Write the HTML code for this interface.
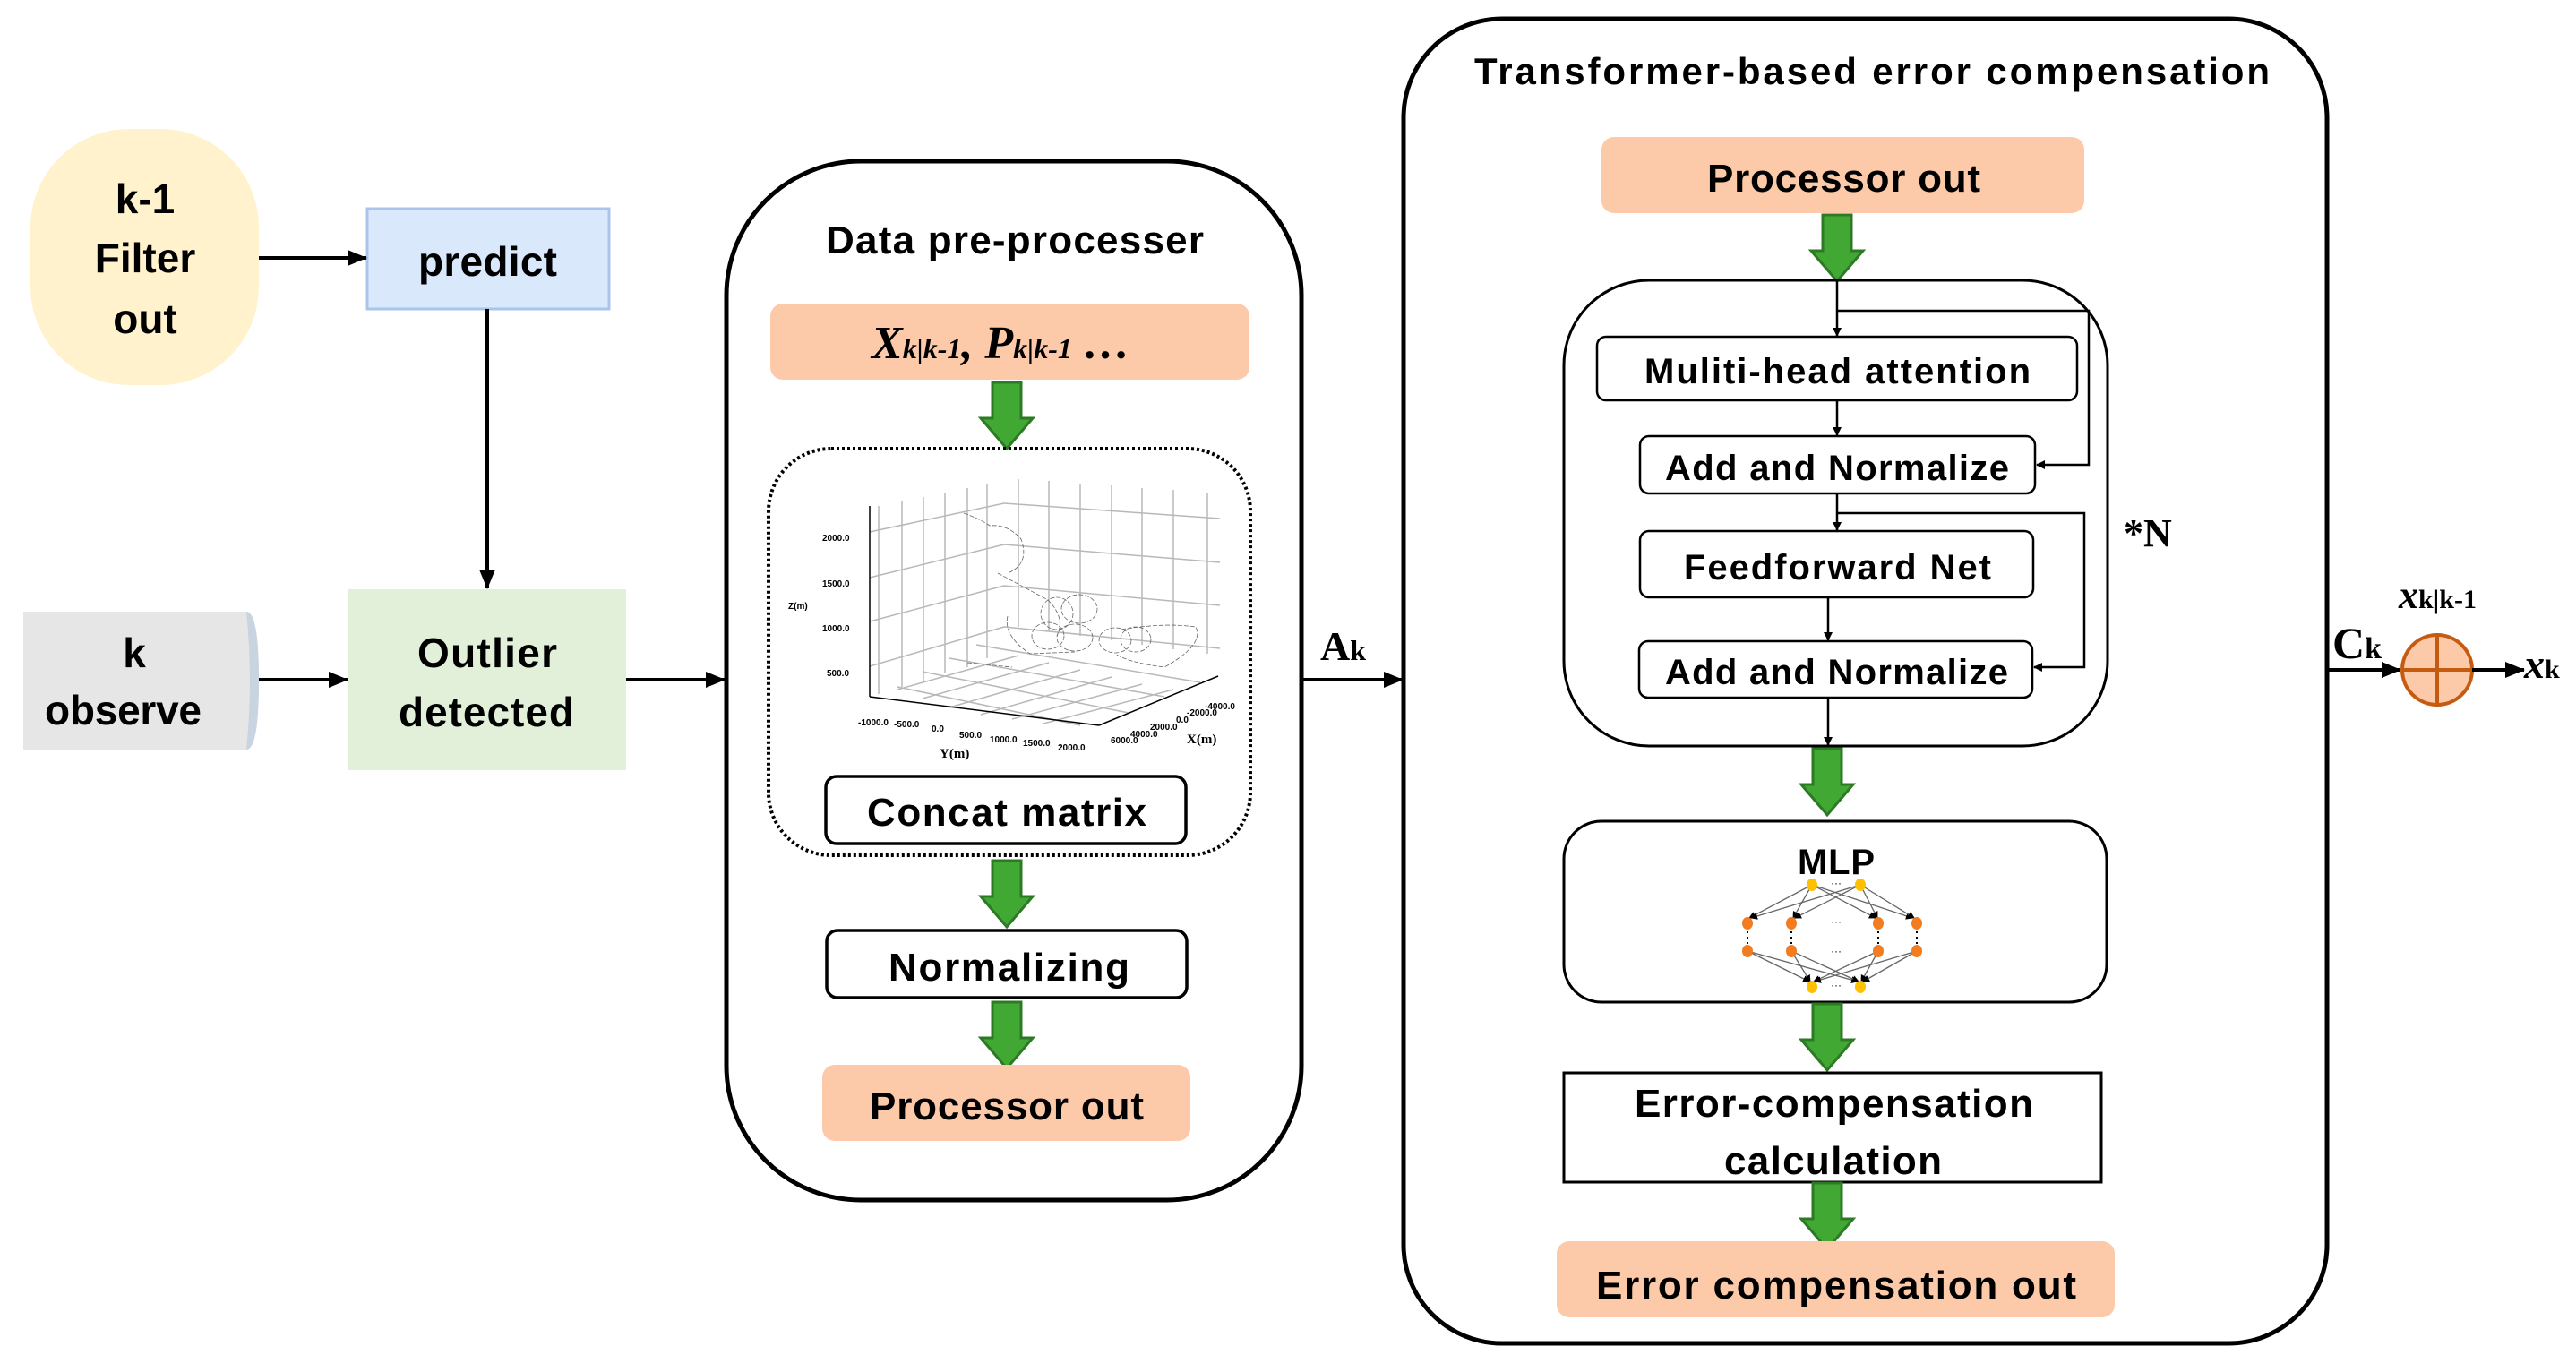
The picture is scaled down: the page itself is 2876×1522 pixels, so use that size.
<!DOCTYPE html>
<html><head><meta charset="utf-8"><style>
html,body{margin:0;padding:0;background:#fff}
svg{display:block}
.b{font-family:"Liberation Sans",sans-serif;font-weight:bold;fill:#000}
.s{font-family:"Liberation Serif",serif;font-weight:bold;fill:#000}
.t{font-family:"Liberation Sans",sans-serif;font-size:10px;font-weight:bold;fill:#000}
</style></head><body>
<svg width="2876" height="1522" viewBox="0 0 2876 1522" xmlns="http://www.w3.org/2000/svg">
<defs>
<marker id="a" markerWidth="10" markerHeight="10" refX="9" refY="5" orient="auto" markerUnits="userSpaceOnUse"><path d="M0,0 L10,5 L0,10 z" fill="#000"/></marker>
<marker id="A" markerWidth="22" markerHeight="18" refX="21" refY="9" orient="auto" markerUnits="userSpaceOnUse"><path d="M0,0 L22,9 L0,18 z" fill="#000"/></marker>
<marker id="m" markerWidth="8" markerHeight="8" refX="7" refY="4" orient="auto" markerUnits="userSpaceOnUse"><path d="M0,0 L8,4 L0,8 z" fill="#000"/></marker>
<g id="g"><path d="M-16,0 H16 V40 H29 L0,74 L-29,40 H-16 Z" fill="#42a834" stroke="#2d7a25" stroke-width="3"/></g>
</defs>

<rect x="34" y="144" width="255" height="286" rx="110" fill="#fff2cc"/>
<text class="b" font-size="46" text-anchor="middle" x="162" y="238">k-1</text>
<text class="b" font-size="46" text-anchor="middle" x="162" y="304">Filter</text>
<text class="b" font-size="46" text-anchor="middle" x="162" y="372">out</text>

<rect x="410" y="233" width="270" height="112" fill="#dae8fc" stroke="#a9c4eb" stroke-width="3"/>
<text class="b" font-size="46" x="467" y="308" textLength="155">predict</text>

<path d="M26,683 H275 Q289,683 289,760 Q289,837 275,837 H26 Z" fill="#e6e6e6"/>
<path d="M275,683 Q289,683 289,760 Q289,837 275,837 Q283,760 275,683 Z" fill="#c8d4e0"/>
<text class="b" font-size="46" text-anchor="middle" x="150" y="745">k</text>
<text class="b" font-size="46" x="50" y="809" textLength="175">observe</text>

<rect x="389" y="658" width="310" height="202" fill="#e2f0d9"/>
<text class="b" font-size="46" x="466" y="745" textLength="156">Outlier</text>
<text class="b" font-size="46" x="445" y="811" textLength="196">detected</text>

<line x1="289" y1="288" x2="409" y2="288" stroke="#000" stroke-width="4" marker-end="url(#A)"/>
<line x1="544" y1="345" x2="544" y2="657" stroke="#000" stroke-width="4" marker-end="url(#A)"/>
<line x1="289" y1="759" x2="388" y2="759" stroke="#000" stroke-width="4" marker-end="url(#A)"/>
<line x1="699" y1="759" x2="809" y2="759" stroke="#000" stroke-width="4" marker-end="url(#A)"/>

<rect x="811" y="180" width="642" height="1160" rx="150" fill="none" stroke="#000" stroke-width="5"/>
<text class="b" font-size="44" x="922" y="283" textLength="422">Data pre-processer</text>
<rect x="860" y="339" width="535" height="85" rx="14" fill="#fccaa8"/>
<text class="s" font-size="52" font-style="italic" x="973" y="400">X<tspan font-size="32">k|k-1</tspan>, P<tspan font-size="32">k|k-1</tspan> …</text>
<use href="#g" x="1124" y="427"/>
<rect x="858" y="501" width="538" height="454" rx="70" fill="none" stroke="#000" stroke-width="4" stroke-dasharray="3,3"/>

<g stroke="#b8b8b8" stroke-width="1.5" fill="none">
<line x1="971" y1="594" x2="1121" y2="562"/><line x1="971" y1="645" x2="1121" y2="608"/><line x1="971" y1="694" x2="1121" y2="654"/><line x1="971" y1="744" x2="1121" y2="700"/>
<line x1="1121" y1="562" x2="1362" y2="579"/><line x1="1121" y1="608" x2="1362" y2="628"/><line x1="1121" y1="654" x2="1362" y2="676"/><line x1="1121" y1="700" x2="1362" y2="724"/>
<line x1="981" y1="565" x2="981" y2="775"/><line x1="1007" y1="560" x2="1007" y2="767"/><line x1="1031" y1="555" x2="1031" y2="760"/><line x1="1055" y1="550" x2="1055" y2="752"/><line x1="1080" y1="545" x2="1080" y2="745"/><line x1="1102" y1="540" x2="1102" y2="735"/>
<line x1="1137" y1="535" x2="1137" y2="700"/><line x1="1171" y1="537" x2="1171" y2="705"/><line x1="1206" y1="540" x2="1206" y2="710"/><line x1="1241" y1="542" x2="1241" y2="715"/><line x1="1275" y1="545" x2="1275" y2="720"/><line x1="1310" y1="547" x2="1310" y2="725"/><line x1="1348" y1="550" x2="1348" y2="730"/>
<line x1="1002" y1="770" x2="1137" y2="732"/><line x1="1030" y1="780" x2="1171" y2="740"/><line x1="1060" y1="790" x2="1206" y2="748"/><line x1="1095" y1="798" x2="1241" y2="756"/><line x1="1130" y1="803" x2="1275" y2="764"/><line x1="1165" y1="808" x2="1310" y2="770"/>
<line x1="1002" y1="767" x2="1206" y2="810"/><line x1="1030" y1="750" x2="1260" y2="796"/><line x1="1060" y1="735" x2="1300" y2="778"/><line x1="1090" y1="720" x2="1340" y2="762"/>
</g>
<g stroke="#000" stroke-width="1.5" fill="none">
<line x1="971" y1="565" x2="971" y2="778"/><line x1="971" y1="778" x2="1227" y2="810"/><line x1="1227" y1="810" x2="1360" y2="755"/>
</g>
<g stroke="#666" stroke-width="0.8" fill="none" stroke-dasharray="5,2">
<path d="M1076,573 Q1095,580 1105,587 Q1125,585 1140,602 Q1150,630 1125,640"/>
<path d="M1114,640 L1170,670 Q1190,690 1180,710"/>
<ellipse cx="1180" cy="685" rx="18" ry="18"/><ellipse cx="1205" cy="680" rx="20" ry="16"/><ellipse cx="1170" cy="710" rx="18" ry="15"/><ellipse cx="1200" cy="712" rx="20" ry="15"/>
<ellipse cx="1245" cy="715" rx="18" ry="14"/><ellipse cx="1268" cy="714" rx="17" ry="14"/><path d="M1252,703 Q1300,695 1335,700 Q1345,720 1300,745 Q1260,740 1245,730"/>
<path d="M1125,688 Q1120,710 1150,730 L1200,728"/><path d="M1080,740 L1130,745"/>
</g>
<text class="t" x="918" y="604">2000.0</text><text class="t" x="918" y="655">1500.0</text><text class="t" x="918" y="705">1000.0</text><text class="t" x="923" y="755">500.0</text>
<text class="t" x="880" y="680" font-family="Liberation Serif" font-size="13">Z(m)</text>
<text class="t" x="958" y="810">-1000.0</text><text class="t" x="998" y="812">-500.0</text><text class="t" x="1040" y="817">0.0</text><text class="t" x="1071" y="824">500.0</text><text class="t" x="1105" y="829">1000.0</text><text class="t" x="1142" y="833">1500.0</text><text class="t" x="1181" y="838">2000.0</text>
<text class="t" x="1240" y="830">6000.0</text><text class="t" x="1262" y="823">4000.0</text><text class="t" x="1284" y="815">2000.0</text><text class="t" x="1313" y="807">0.0</text><text class="t" x="1325" y="799">-2000.0</text><text class="t" x="1345" y="792">-4000.0</text>
<text x="1049" y="846" font-family="Liberation Serif" font-weight="bold" font-size="15">Y(m)</text>
<text x="1325" y="830" font-family="Liberation Serif" font-weight="bold" font-size="15">X(m)</text>

<rect x="922" y="867" width="402" height="75" rx="12" fill="#fff" stroke="#000" stroke-width="3.5"/>
<text class="b" font-size="44" x="968" y="922" textLength="312">Concat matrix</text>
<use href="#g" x="1124" y="961"/>
<rect x="923" y="1039" width="402" height="75" rx="12" fill="#fff" stroke="#000" stroke-width="3.5"/>
<text class="b" font-size="44" x="992" y="1095" textLength="269">Normalizing</text>
<use href="#g" x="1124" y="1119"/>
<rect x="918" y="1189" width="411" height="85" rx="14" fill="#fccaa8"/>
<text class="b" font-size="44" x="971" y="1250" textLength="306">Processor out</text>

<text class="s" font-size="46" x="1474" y="737">A<tspan font-size="32">k</tspan></text>
<line x1="1453" y1="759" x2="1566" y2="759" stroke="#000" stroke-width="4" marker-end="url(#A)"/>

<rect x="1567" y="21" width="1031" height="1479" rx="110" fill="none" stroke="#000" stroke-width="5"/>
<text class="b" font-size="42" x="1646" y="94" textLength="888">Transformer-based error compensation</text>
<rect x="1788" y="153" width="539" height="85" rx="14" fill="#fccaa8"/>
<text class="b" font-size="44" x="1906" y="214" textLength="305">Processor out</text>
<use href="#g" x="2051" y="240"/>
<rect x="1746" y="313" width="607" height="520" rx="95" fill="none" stroke="#000" stroke-width="3"/>
<g stroke="#000" stroke-width="2.5" fill="none">
<line x1="2051" y1="313" x2="2051" y2="375" marker-end="url(#a)"/>
<polyline points="2051,347 2332,347 2332,519 2274,519" marker-end="url(#a)"/>
<line x1="2051" y1="447" x2="2051" y2="486" marker-end="url(#a)"/>
<line x1="2051" y1="551" x2="2051" y2="592" marker-end="url(#a)"/>
<polyline points="2051,573 2327,573 2327,745 2271,745" marker-end="url(#a)"/>
<line x1="2041" y1="667" x2="2041" y2="715" marker-end="url(#a)"/>
<line x1="2041" y1="779" x2="2041" y2="832" marker-end="url(#a)"/>
</g>
<rect x="1783" y="376" width="536" height="71" rx="10" fill="#fff" stroke="#000" stroke-width="2.5"/>
<text class="b" font-size="40" x="1836" y="428" textLength="431">Muliti-head attention</text>
<rect x="1831" y="487" width="441" height="64" rx="10" fill="#fff" stroke="#000" stroke-width="2.5"/>
<text class="b" font-size="40" x="1859" y="536" textLength="384">Add and Normalize</text>
<rect x="1831" y="593" width="439" height="74" rx="10" fill="#fff" stroke="#000" stroke-width="2.5"/>
<text class="b" font-size="40" x="1880" y="647" textLength="343">Feedforward Net</text>
<rect x="1830" y="716" width="439" height="63" rx="10" fill="#fff" stroke="#000" stroke-width="2.5"/>
<text class="b" font-size="40" x="1859" y="764" textLength="383">Add and Normalize</text>
<text class="s" font-size="44" x="2371" y="610">*N</text>
<use href="#g" x="2040" y="836"/>

<rect x="1746" y="917" width="606" height="202" rx="42" fill="none" stroke="#000" stroke-width="3"/>
<text class="b" font-size="40" x="2007" y="976" textLength="86">MLP</text>
<g stroke="#666" stroke-width="1.3" fill="none">
<line x1="2023" y1="988" x2="1953" y2="1025" marker-end="url(#m)"/><line x1="2023" y1="988" x2="2002" y2="1025" marker-end="url(#m)"/><line x1="2023" y1="988" x2="2094" y2="1025" marker-end="url(#m)"/><line x1="2023" y1="988" x2="2135" y2="1025" marker-end="url(#m)"/>
<line x1="2077" y1="988" x2="1955" y2="1025" marker-end="url(#m)"/><line x1="2077" y1="988" x2="2004" y2="1025" marker-end="url(#m)"/><line x1="2077" y1="988" x2="2096" y2="1025" marker-end="url(#m)"/><line x1="2077" y1="988" x2="2137" y2="1025" marker-end="url(#m)"/>
<line x1="1951" y1="1062" x2="2020" y2="1096" marker-end="url(#m)"/><line x1="1951" y1="1062" x2="2074" y2="1096" marker-end="url(#m)"/><line x1="2000" y1="1062" x2="2021" y2="1096" marker-end="url(#m)"/><line x1="2000" y1="1062" x2="2075" y2="1096" marker-end="url(#m)"/>
<line x1="2097" y1="1062" x2="2025" y2="1096" marker-end="url(#m)"/><line x1="2097" y1="1062" x2="2078" y2="1096" marker-end="url(#m)"/><line x1="2140" y1="1062" x2="2026" y2="1096" marker-end="url(#m)"/><line x1="2140" y1="1062" x2="2080" y2="1096" marker-end="url(#m)"/>
</g>
<g fill="#ffc000"><ellipse cx="2023" cy="988" rx="6" ry="7"/><ellipse cx="2077" cy="988" rx="6" ry="7"/><ellipse cx="2023" cy="1102" rx="6" ry="7"/><ellipse cx="2077" cy="1102" rx="6" ry="7"/></g>
<g fill="#f47c20"><ellipse cx="1951" cy="1031" rx="6" ry="7"/><ellipse cx="2000" cy="1031" rx="6" ry="7"/><ellipse cx="2097" cy="1031" rx="6" ry="7"/><ellipse cx="2140" cy="1031" rx="6" ry="7"/>
<ellipse cx="1951" cy="1062" rx="6" ry="7"/><ellipse cx="2000" cy="1062" rx="6" ry="7"/><ellipse cx="2097" cy="1062" rx="6" ry="7"/><ellipse cx="2140" cy="1062" rx="6" ry="7"/></g>
<g font-family="Liberation Sans" font-size="12" fill="#000" text-anchor="middle"><text x="2050" y="990">···</text><text x="2050" y="1033">···</text><text x="2050" y="1066">···</text><text x="2050" y="1104">···</text></g>
<g stroke="#000" stroke-width="2" stroke-dasharray="2,4"><line x1="1951" y1="1040" x2="1951" y2="1054"/><line x1="2000" y1="1040" x2="2000" y2="1054"/><line x1="2097" y1="1040" x2="2097" y2="1054"/><line x1="2140" y1="1040" x2="2140" y2="1054"/></g>

<use href="#g" x="2040" y="1121"/>
<rect x="1746" y="1198" width="600" height="122" fill="#fff" stroke="#000" stroke-width="3"/>
<text class="b" font-size="44" x="1825" y="1247" textLength="445">Error-compensation</text>
<text class="b" font-size="44" x="1925" y="1311" textLength="243">calculation</text>
<use href="#g" x="2040" y="1321"/>
<rect x="1738" y="1386" width="623" height="85" rx="14" fill="#fccaa8"/>
<text class="b" font-size="44" x="1782" y="1450" textLength="536">Error compensation out</text>

<line x1="2598" y1="748" x2="2680" y2="748" stroke="#000" stroke-width="4" marker-end="url(#A)"/>
<circle cx="2721" cy="748" r="39" fill="#fccaa8" stroke="#c55a11" stroke-width="4"/>
<line x1="2682" y1="748" x2="2760" y2="748" stroke="#c55a11" stroke-width="4"/>
<line x1="2721" y1="709" x2="2721" y2="787" stroke="#c55a11" stroke-width="4"/>
<line x1="2760" y1="748" x2="2818" y2="748" stroke="#000" stroke-width="4" marker-end="url(#A)"/>
<text class="s" font-size="50" x="2604" y="735">C<tspan font-size="34">k</tspan></text>
<text class="s" font-size="44" x="2678" y="679"><tspan font-style="italic">x</tspan><tspan font-size="30">k|k-1</tspan></text>
<text class="s" font-size="46" x="2818" y="757"><tspan font-style="italic">x</tspan><tspan font-size="30">k</tspan></text>
</svg>
</body></html>
